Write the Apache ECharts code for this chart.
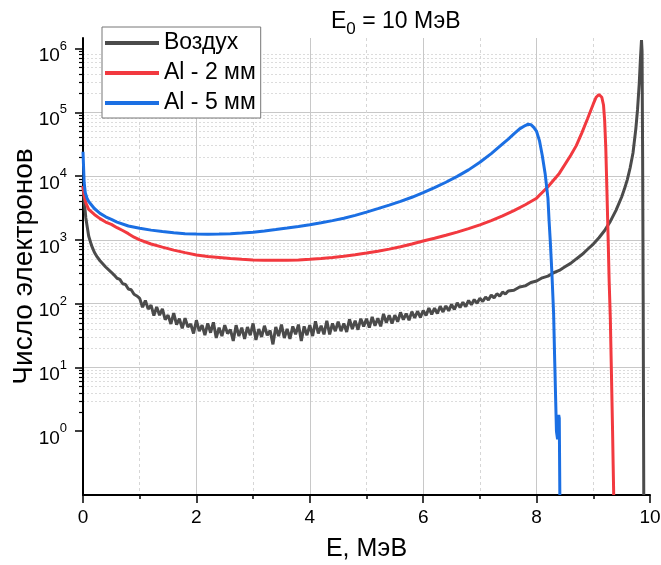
<!DOCTYPE html>
<html><head><meta charset="utf-8">
<script src="https://cdn.jsdelivr.net/npm/echarts@6/dist/echarts.min.js"></script>
<style>html,body{margin:0;padding:0;background:#fff}#c{width:661px;height:565px}</style>
</head><body><div id="c"></div>
<script>
// ---- Data ----
const seriesNames = ['Воздух', 'Al - 2 мм', 'Al - 5 мм'];

const airE = [0,0.02,0.05,0.1,0.15,0.2,0.25,0.3,0.4,
0.5,0.55,0.6,0.65,0.7,0.75,0.8,0.85,0.9,0.95,
1,1.05,1.1,1.15,1.2,1.25,1.3,1.35,1.4,1.45,
1.5,1.55,1.6,1.65,1.7,1.75,1.8,1.85,1.9,1.95,
2,2.05,2.1,2.15,2.2,2.25,2.3,2.35,2.4,2.45,
2.5,2.55,2.6,2.65,2.7,2.75,2.8,2.85,2.9,2.95,
3,3.05,3.1,3.15,3.2,3.25,3.3,3.35,3.4,3.45,
3.5,3.55,3.6,3.65,3.7,3.75,3.8,3.85,3.9,3.95,
4,4.05,4.1,4.15,4.2,4.25,4.3,4.35,4.4,4.45,
4.5,4.55,4.6,4.65,4.7,4.75,4.8,4.85,4.9,4.95,
5,5.05,5.1,5.15,5.2,5.25,5.3,5.35,5.4,5.45,
5.5,5.55,5.6,5.65,5.7,5.75,5.8,5.85,5.9,5.95,
6,6.05,6.1,6.15,6.2,6.25,6.3,6.35,6.4,6.45,
6.5,6.55,6.6,6.65,6.7,6.75,6.8,6.85,6.9,6.95,
7,7.05,7.1,7.15,7.2,7.25,7.3,7.35,7.4,7.45,
7.5,7.6,7.7,7.8,7.9,8,8.1,8.2,8.3,8.4,
8.5,8.6,8.7,8.8,8.9,9,9.1,9.2,9.3,9.4,
9.5,9.55,9.6,9.65,9.7,9.75,9.78,9.81,9.83,9.85,
9.86,9.87,9.88,9.89];
const airN = [7000,4200,2200,1150,820,640,540,470,375,
310,280,250,240,205,200,170,165,140,132,
121,88,112,82,95,65,89,66,83,56,
66,48,71,47,58,41,59,43,48,34,
55,37,46,32,49,35,51,29,42,31,
46,34,39,26,46,31,42,28,43,32,
49,27,40,30,45,32,38,23,43,31,
47,29,40,28,44,33,47,26,44,32,
46,31,53,34,45,33,54,33,49,37,
52,37,49,36,57,40,54,39,58,44,
58,42,62,45,59,44,69,50,66,49,
66,52,73,56,70,55,75,60,76,61,
78,65,85,68,85,70,91,74,92,77,
97,81,103,87,105,90,112,96,116,101,
121,108,127,114,136,123,143,131,152,141,
158,162,182,190,214,226,254,270,305,332,
378,428,502,588,712,858,1080,1400,1950,2900,
4700,6300,8800,13500,23000,55000,110000,280000,650000,1350000,
900000,20000,100,0.1];

const al2E = [0,0.02,0.05,0.1,0.2,0.3,0.4,0.5,0.6,0.7,0.8,0.9,
1,1.2,1.4,1.6,1.8,2,2.2,2.4,2.6,2.8,3,3.2,3.4,3.6,3.8,
4,4.2,4.4,4.6,4.8,5,5.2,5.4,5.6,5.8,6,6.2,6.4,6.6,6.8,
7,7.2,7.4,7.6,7.8,8,8.2,8.4,8.6,8.7,8.8,8.9,9,9.05,9.1,
9.15,9.18,9.2,9.22,9.24,9.26,9.28,9.3,9.32,9.34,9.35,9.36];
const al2N = [7000,5000,3800,3000,2500,2150,1900,1750,1550,1400,1250,1100,
1000,860,770,690,630,580,550,530,510,495,485,480,478,480,485,
495,510,530,555,585,620,665,715,780,860,960,1060,1180,1320,1500,
1720,2000,2380,2880,3550,4500,6800,11000,21000,30000,48000,80000,135000,172000,190000,
172000,130000,75000,28000,6000,1200,220,60,8,1,0.3,0.1];

const al5E = [0,0.01,0.02,0.04,0.07,0.1,0.2,0.3,0.4,0.5,0.6,0.8,
1,1.2,1.4,1.6,1.8,2,2.2,2.4,2.6,2.8,3,3.2,3.4,3.6,3.8,
4,4.2,4.4,4.6,4.8,5,5.2,5.4,5.6,5.8,6,6.2,6.4,6.6,6.8,
7,7.2,7.4,7.5,7.6,7.7,7.8,7.85,7.9,7.95,8,8.05,8.1,8.15,
8.2,8.22,8.24,8.27,8.3,8.32,8.35,8.37,8.39,8.4,8.41];
const al5N = [24000,14000,8000,5500,4500,4000,3100,2600,2300,2100,1900,1650,
1520,1420,1350,1290,1250,1230,1220,1230,1250,1280,1320,1380,1450,1530,1620,
1720,1850,2000,2180,2420,2720,3080,3500,4000,4650,5500,6600,8000,9900,12500,
16500,22500,32000,38000,46000,55000,62000,65000,64000,58000,50000,36000,21000,11000,
4500,2000,1000,300,70,12,1.0,0.75,1.8,1.6,0.1];

// Axis ticks
const xMin = 0, xMax = 10, xStep = 2;
const yMin = 0.1, yMax = 1.46e6;
const yMajor = [1, 10, 100, 1000, 10000, 100000, 1000000];
const mantissas = [2, 3, 4, 5, 6, 7, 8, 9];
const yMinor = [];
yMajor.slice(0, 6).forEach(d => mantissas.forEach(m => yMinor.push(m * d)));

const FONT = '"Liberation Sans", Arial, Helvetica, sans-serif';
const colors = ['#4b4b4b', '#f2393f', '#1b6fe3'];

function pairs(xs, ys) { return xs.map((x, i) => [x, ys[i]]); }

const chart = echarts.init(document.getElementById('c'), null, {renderer: 'canvas'});
const option = {
  animation: false,
  backgroundColor: '#fff',
  title: {
    text: 'E{sub|0} = 10 МэВ',
    left: 326, top: 1,
    textStyle: {
      fontFamily: FONT, fontSize: 23, fontWeight: 'normal', color: '#000', lineHeight: 32,
      rich: {
        sub: {fontFamily: FONT, fontSize: 17, lineHeight: 17, verticalAlign: 'bottom'}
      }
    }
  },
  legend: {
    orient: 'vertical',
    left: 102, top: 27,
    padding: [4, 5, 3, 3],
    itemGap: 6,
    itemWidth: 54, itemHeight: 4,
    icon: 'rect',
    borderColor: '#777', borderWidth: 1,
    backgroundColor: '#fff',
    textStyle: {fontFamily: FONT, fontSize: 23, color: '#000', lineHeight: 24},
    data: seriesNames
  },
  grid: {left: 83, right: 11, top: 38, bottom: 70, containLabel: false, outerBoundsMode: 'none'},
  xAxis: {
    type: 'value', min: xMin, max: xMax, interval: xStep,
    name: 'E, МэВ', nameLocation: 'middle', nameGap: 42, nameMoveOverlap: false,
    nameTextStyle: {fontFamily: FONT, fontSize: 25, color: '#000'},
    axisLine: {show: true, lineStyle: {color: '#000', width: 2}},
    axisTick: {show: true, inside: false, length: 8, lineStyle: {color: '#000', width: 1.5}},
    minorTick: {show: true, splitNumber: 2, length: 4, lineStyle: {color: '#000', width: 1.5}},
    axisLabel: {fontFamily: FONT, fontSize: 19, color: '#000', margin: 13},
    splitLine: {show: true, showMinLine: false, showMaxLine: false, lineStyle: {color: '#c8c8c8', width: 1}},
    minorSplitLine: {show: true, lineStyle: {color: '#d6d6d6', width: 1, type: [3, 3]}}
  },
  yAxis: [{
    type: 'log', logBase: 10, min: yMin, max: yMax,
    name: 'Число электронов', nameLocation: 'middle', nameGap: 45, nameMoveOverlap: false,
    nameTextStyle: {fontFamily: FONT, fontSize: 28, color: '#000'},
    axisLine: {show: true, lineStyle: {color: '#000', width: 2}},
    axisTick: {show: true, inside: false, length: 8, customValues: yMajor, lineStyle: {color: '#000', width: 1.5}},
    axisLabel: {
      customValues: yMajor,
      margin: 16,
      padding: [8, 0, 0, 0],
      formatter: v => '{b|10}{s|' + Math.round(Math.log10(v)) + '}',
      rich: {
        b: {fontFamily: FONT, fontSize: 19, color: '#000', lineHeight: 26, verticalAlign: 'bottom'},
        s: {fontFamily: FONT, fontSize: 13, color: '#000', lineHeight: 13, verticalAlign: 'top'}
      }
    },
    splitLine: {show: true, showMinLine: false, showMaxLine: false, lineStyle: {color: '#c8c8c8', width: 1}}
  }, {
    type: 'log', logBase: 10, min: yMin, max: yMax, position: 'left',
    axisLine: {show: false},
    axisTick: {show: true, inside: false, length: 4, customValues: yMinor, lineStyle: {color: '#000', width: 1.2}},
    axisLabel: {show: false},
    splitLine: {show: true, showMinLine: false, showMaxLine: false, lineStyle: {color: '#dcdcdc', width: 1, type: [2, 2]}}
  }],
  series: [
    {name: seriesNames[0], data: pairs(airE, airN)},
    {name: seriesNames[1], data: pairs(al2E, al2N)},
    {name: seriesNames[2], data: pairs(al5E, al5N)}
  ].map((s, i) => Object.assign(s, {
    type: 'line', yAxisIndex: 0, showSymbol: false, symbol: 'none',
    color: colors[i], lineStyle: {color: colors[i], width: 3},
    itemStyle: {color: colors[i]}, clip: true, z: 3 + i
  }))
};
chart.setOption(option);
</script>
</body></html>
